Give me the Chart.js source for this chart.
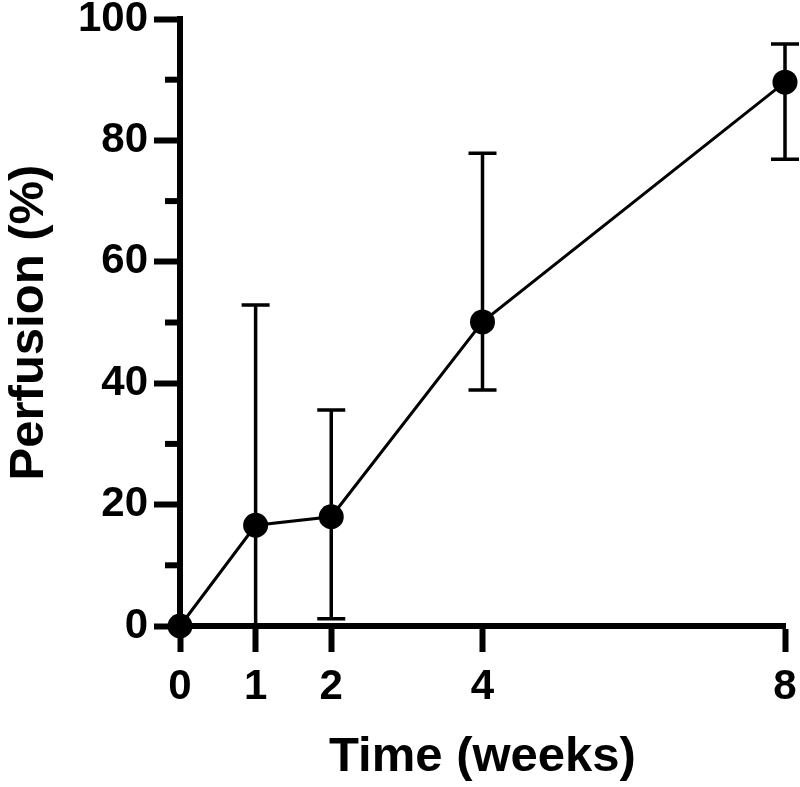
<!DOCTYPE html>
<html>
<head>
<meta charset="utf-8">
<script src="https://cdn.jsdelivr.net/npm/chart.js@4/dist/chart.umd.min.js"></script>
<style>
html,body{margin:0;padding:0;background:#fff;}
#wrap{width:800px;height:787px;position:relative;}
</style>
</head>
<body>
<div id="wrap"><canvas id="c"></canvas></div>
<script>
const weeks = [0, 1, 2, 4, 8];
const perfusion = [0, 16.6, 18.0, 50.1, 89.6];
const errUpper = [null, 52.9, 35.6, 77.9, 95.9];
const errLower = [null, 0, 1.2, 38.9, 76.9];
const xTickValues = [0, 1, 2, 4, 8];
const yMajorStep = 20;
const yMinorStep = 10;

const FONT = '"Liberation Sans", Arial, Helvetica, sans-serif';

const errorBars = {
  id: 'errorBars',
  beforeDatasetsDraw(chart) {
    const ctx = chart.ctx;
    const xs = chart.scales.x, ys = chart.scales.y;
    ctx.save();
    ctx.strokeStyle = '#000';
    ctx.lineWidth = 3.5;
    ctx.lineCap = 'butt';
    weeks.forEach((w, i) => {
      if (errUpper[i] == null) return;
      const x = xs.getPixelForValue(w);
      const yU = ys.getPixelForValue(errUpper[i]);
      const yL = ys.getPixelForValue(errLower[i]);
      ctx.beginPath();
      ctx.moveTo(x, yU); ctx.lineTo(x, yL);
      ctx.moveTo(x - 14, yU); ctx.lineTo(x + 14, yU);
      ctx.moveTo(x - 14, yL); ctx.lineTo(x + 14, yL);
      ctx.stroke();
    });
    ctx.restore();
  }
};

const minorTicks = {
  id: 'minorTicks',
  afterDraw(chart) {
    const ctx = chart.ctx;
    const ys = chart.scales.y;
    const left = chart.chartArea.left;
    ctx.save();
    ctx.strokeStyle = '#000';
    ctx.lineWidth = 6;
    for (let v = yMinorStep; v < 100; v += yMajorStep) {
      const y = ys.getPixelForValue(v);
      ctx.beginPath();
      ctx.moveTo(left - 15, y); ctx.lineTo(left, y);
      ctx.stroke();
    }
    ctx.restore();
  }
};

new Chart(document.getElementById('c'), {
  type: 'line',
  data: {
    datasets: [{
      data: weeks.map((w, i) => ({x: w, y: perfusion[i]})),
      borderColor: '#000',
      backgroundColor: '#000',
      borderWidth: 3,
      pointRadius: 12.5,
      pointHoverRadius: 12.5,
      pointBackgroundColor: '#000',
      pointBorderWidth: 0,
      tension: 0,
      clip: false
    }]
  },
  options: {
    responsive: true,
    maintainAspectRatio: false,
    animation: false,
    events: [],
    layout: {padding: {top: 19, right: 15, left: 0, bottom: 0}},
    plugins: {legend: {display: false}, tooltip: {enabled: false}},
    scales: {
      x: {
        type: 'linear',
        min: 0, max: 8,
        afterBuildTicks(scale) { scale.ticks = xTickValues.map(v => ({value: v})); },
        afterFit(scale) { scale.height = 161; scale.paddingLeft = 0; scale.paddingRight = 0; },
        grid: {drawOnChartArea: false, tickLength: 26, tickWidth: 6, tickColor: '#000'},
        border: {display: true, width: 6, color: '#000'},
        ticks: {color: '#000', font: {family: FONT, size: 42, weight: 'bold'}, padding: 10, maxRotation: 0, autoSkip: false},
        title: {display: true, text: 'Time (weeks)', color: '#000', font: {family: FONT, size: 49, weight: 'bold'}, padding: {top: 4, bottom: 0}}
      },
      y: {
        min: 0, max: 100,
        afterFit(scale) { scale.width = 180; scale.paddingTop = 0; scale.paddingBottom = 0; },
        ticks: {
          stepSize: yMinorStep,
          color: '#000',
          font: {family: FONT, size: 42, weight: 'bold'},
          padding: 6,
          autoSkip: false,
          callback: v => (v % yMajorStep === 0 ? v : '')
        },
        grid: {
          drawOnChartArea: false, tickLength: 26, tickWidth: 6,
          tickColor: c => (c.tick && c.tick.value % yMajorStep === 0 ? '#000' : 'rgba(0,0,0,0)')
        },
        border: {display: true, width: 6, color: '#000'},
        title: {display: true, text: 'Perfusion (%)', color: '#000', font: {family: FONT, size: 49, weight: 'bold'}, padding: 0}
      }
    }
  },
  plugins: [errorBars, minorTicks]
});
</script>
</body>
</html>
